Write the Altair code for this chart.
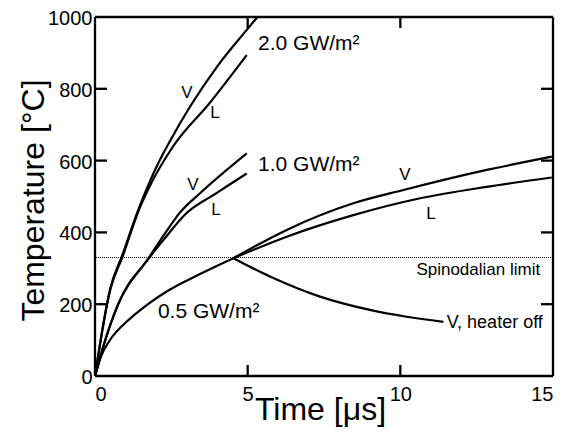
import altair as alt
import pandas as pd

# ---- data ----
t_20V = [0, 0.5, 0.9, 1.45, 2.0, 2.46, 3.11, 4.0, 4.97, 5.32]
T_20V = [0, 244, 338, 470, 580, 655, 750, 862, 964, 1000]
t_20L = [0, 0.5, 0.9, 1.45, 1.8, 2.56, 3.77, 4.97]
T_20L = [0, 240, 332, 465, 530, 640, 762, 894]

t_10V = [0, 0.27, 0.76, 1.75, 2.3, 2.78, 3.44, 4.97]
T_10V = [0, 82, 200, 328, 398, 455, 509, 620]
t_10L = [0, 0.27, 0.76, 1.75, 2.3, 2.95, 3.99, 4.97]
T_10L = [0, 82, 200, 326, 385, 450, 510, 564]

t_05 = [0, 0.2, 0.49, 0.93, 1.26, 2.4, 3.44, 4.53]
T_05 = [0, 55, 100, 143, 168, 238, 284, 328]
t_05V = [4.53, 6.28, 8.46, 10.1, 12.83, 14.96]
T_05V = [328, 407, 481, 518, 574, 611]
t_05L = [4.53, 6.28, 8.46, 10.65, 12.83, 14.96]
T_05L = [328, 388, 448, 495, 527, 553]
t_off = [4.53, 5.73, 7.37, 9.0, 10.2, 11.41]
T_off = [328, 277, 221, 184, 165, 151]

spinodal = 330

x_ticks = [0, 5, 10, 15]
y_ticks = [0, 200, 400, 600, 800, 1000]
inner_x_ticks = [5, 10]
inner_y_ticks = [200, 400, 600, 800]

big_labels = ["2.0 GW/m²", "1.0 GW/m²", "0.5 GW/m²"]
big_x = [5.34, 5.34, 2.06]
big_y = [925, 588, 178]

vl_labels = ["V", "L", "V", "L", "V", "L"]
vl_x = [3.01, 3.93, 3.21, 3.96, 10.15, 11.0]
vl_y = [788, 733, 532, 462, 560, 451]

FONT = "Liberation Sans"
X0, X1 = 0, 15
Y0, Y1 = 0, 1000

rows = []
for name, ts, Ts in [("20V", t_20V, T_20V), ("20L", t_20L, T_20L),
                     ("10V", t_10V, T_10V), ("10L", t_10L, T_10L),
                     ("05", t_05, T_05), ("05V", t_05V, T_05V),
                     ("05L", t_05L, T_05L), ("off", t_off, T_off)]:
    for i, (a, b) in enumerate(zip(ts, Ts)):
        rows.append({"series": name, "t": a, "T": b, "i": i})
df = pd.DataFrame(rows)

W, H = 458, 359
# inward tick lengths expressed in data units (about 11-12 px)
tick_len_y = 11 * (Y1 - Y0) / H
tick_len_x = 12 * (X1 - X0) / W

seg = []
for v in inner_x_ticks:
    seg.append({"x": v, "x2": v, "y": Y0, "y2": Y0 + tick_len_y})
    seg.append({"x": v, "x2": v, "y": Y1, "y2": Y1 - tick_len_y})
for v in inner_y_ticks:
    seg.append({"x": X0, "x2": X0 + tick_len_x, "y": v, "y2": v})
    seg.append({"x": X1, "x2": X1 - tick_len_x, "y": v, "y2": v})
# frame
seg.append({"x": X0, "x2": X1, "y": Y0, "y2": Y0})
seg.append({"x": X0, "x2": X1, "y": Y1, "y2": Y1})
seg.append({"x": X0, "x2": X0, "y": Y0, "y2": Y1})
seg.append({"x": X1, "x2": X1, "y": Y0, "y2": Y1})
seg_df = pd.DataFrame(seg)

xs = alt.Scale(domain=[X0, X1], nice=False)
ys = alt.Scale(domain=[Y0, Y1], nice=False)

lines = alt.Chart(df).mark_line(color="black", strokeWidth=2.2, interpolate="monotone", clip=True).encode(
    x=alt.X("t:Q", scale=xs, title="Time [μs]",
            axis=alt.Axis(values=x_ticks, ticks=False, domain=False, grid=False, format="d",
                          labelFontSize=20, labelFont=FONT, labelColor="black", labelPadding=8,
                          titleFont=FONT, titleFontSize=32, titleFontWeight="normal", titleColor="black",
                          titleY=43, titleBaseline="alphabetic", titleX=225)),
    y=alt.Y("T:Q", scale=ys, title="Temperature [°C]",
            axis=alt.Axis(values=y_ticks, ticks=False, domain=False, grid=False, format="d",
                          labelFontSize=20, labelFont=FONT, labelColor="black", labelPadding=3,
                          labelOffset=1.5,
                          titleFont=FONT, titleFontSize=32, titleFontWeight="normal", titleColor="black",
                          titleX=-52, titleY=183, titleBaseline="alphabetic")),
    detail="series:N",
    order="i:Q",
)

spin = alt.Chart(pd.DataFrame({"T": [spinodal]})).mark_rule(
    color="black", strokeWidth=1, strokeDash=[1, 1]).encode(y=alt.Y("T:Q", scale=ys))

frame = alt.Chart(seg_df).mark_rule(color="black", strokeWidth=2.3).encode(
    x=alt.X("x:Q", scale=xs), x2="x2:Q", y=alt.Y("y:Q", scale=ys), y2="y2:Q")

big = alt.Chart(pd.DataFrame({"x": big_x, "y": big_y, "s": big_labels})).mark_text(
    font=FONT, fontSize=21, align="left", baseline="middle", color="black").encode(
    x=alt.X("x:Q", scale=xs), y=alt.Y("y:Q", scale=ys), text="s:N")

vl = alt.Chart(pd.DataFrame({"x": vl_x, "y": vl_y, "s": vl_labels})).mark_text(
    font=FONT, fontSize=17, align="center", baseline="middle", color="black").encode(
    x=alt.X("x:Q", scale=xs), y=alt.Y("y:Q", scale=ys), text="s:N")

spin_lbl = alt.Chart(pd.DataFrame({"x": [14.58], "y": [295], "s": ["Spinodalian limit"]})).mark_text(
    font=FONT, fontSize=17, align="right", baseline="middle", color="black").encode(
    x=alt.X("x:Q", scale=xs), y=alt.Y("y:Q", scale=ys), text="s:N")

off_lbl = alt.Chart(pd.DataFrame({"x": [11.52], "y": [148], "s": ["V, heater off"]})).mark_text(
    font=FONT, fontSize=18, align="left", baseline="middle", color="black").encode(
    x=alt.X("x:Q", scale=xs), y=alt.Y("y:Q", scale=ys), text="s:N")

chart = alt.layer(lines, spin, frame, big, vl, spin_lbl, off_lbl).properties(
    width=W, height=H,
    autosize=alt.AutoSizeParams(type="none"),
    padding={"left": 87, "top": 9, "right": 8, "bottom": 58},
    background="white",
).configure_view(stroke=None)

chart.save("out.html", embed_options={"renderer": "svg", "actions": False})
